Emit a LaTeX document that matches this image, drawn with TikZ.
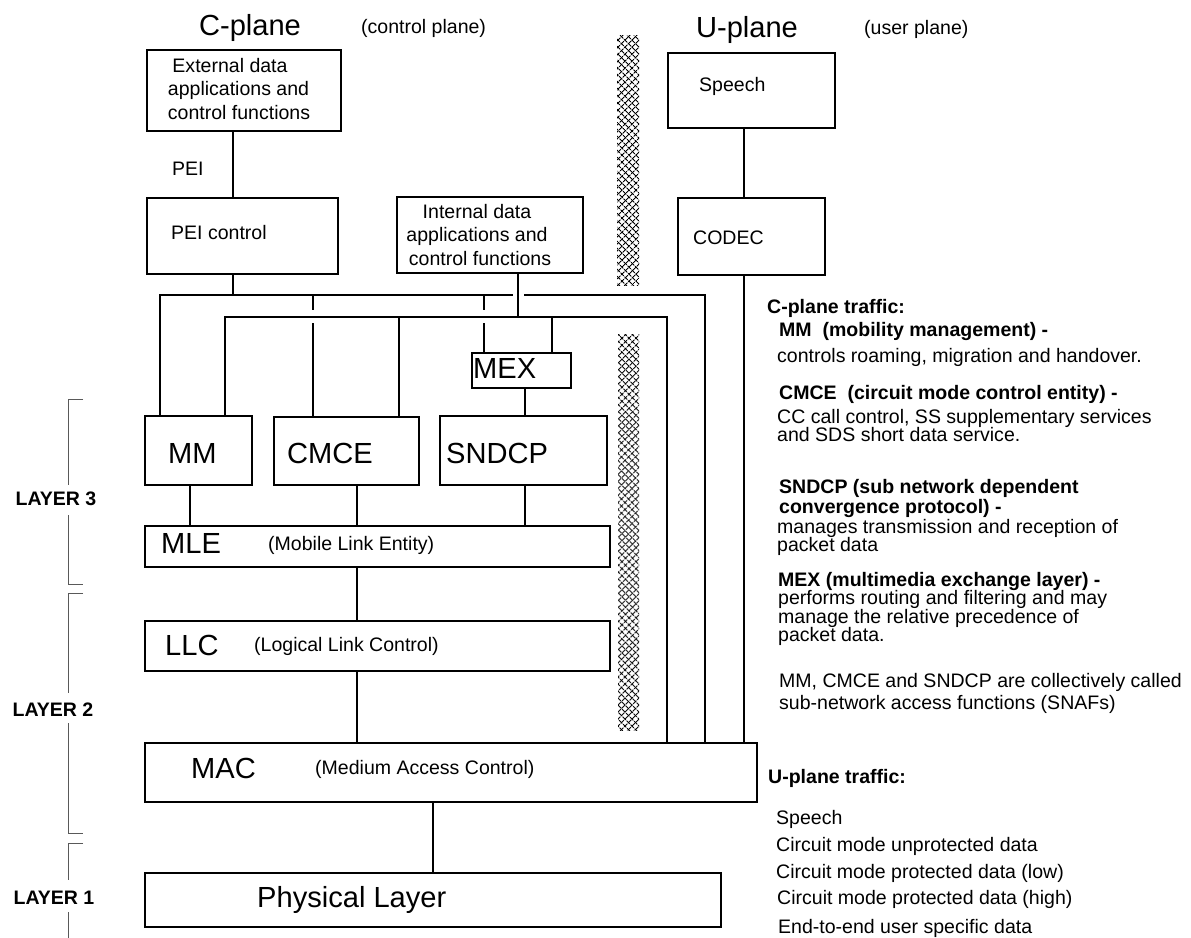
\documentclass[tikz,border=0pt]{standalone}
\usepackage{fontspec}
\setmainfont{Liberation Sans}
\usetikzlibrary{patterns.meta}
\newcommand\mkbox[5]{\node[box, minimum width={(#4-#2)*1bp}, minimum height={(#5-#3)*1bp}] (#1) at (#2,#3) {};}
\begin{document}
\begin{tikzpicture}[x=1bp,y=-1bp,
  box/.style={draw, line width=1.7bp, rectangle, inner sep=0pt, anchor=north west},
  conn/.style={line width=1.7bp},
  brk/.style={line width=1bp, black!65},
  sm/.style={font=\fontsize{19.6}{23}\selectfont, inner sep=0pt, anchor=base west},
  smb/.style={font=\fontsize{19.6}{23}\selectfont\bfseries, inner sep=0pt, anchor=base west},
  bg/.style={font=\fontsize{29.2}{33}\selectfont, inner sep=0pt, anchor=base west},
  hatcha/.style={pattern={Lines[angle=45,distance=5.2bp,line width=1.1bp]}},
  hatchb/.style={pattern={Lines[angle=-45,distance=5.2bp,line width=1.1bp]}},
]
\fill[white] (0,0) rectangle (1191,938);
\useasboundingbox (0,0) rectangle (1191,938);

% titles
\node[bg, anchor=base] (cplane) at (250,35) {C-plane};
\node[sm] (cplanet) at (361,33) {(control plane)};
\node[bg, anchor=base] (uplane) at (747,37) {U-plane};
\node[sm] (uplanet) at (864,34) {(user plane)};

% boxes
\mkbox{ext}{146}{49}{340}{130}
\mkbox{peic}{146}{197}{337}{273}
\mkbox{int}{396}{196}{582}{272}
\mkbox{speech}{667}{52}{834}{127}
\mkbox{codec}{677}{197}{824}{274}
\mkbox{mex}{471}{352}{570}{387}
\mkbox{mm}{144}{415}{251}{484}
\mkbox{cmce}{273}{416}{418}{484}
\mkbox{sndcp}{439}{415}{606}{484}
\mkbox{mle}{144}{525}{609}{566}
\mkbox{llc}{144}{620}{609}{670}
\mkbox{mac}{144}{742}{756}{801}
\mkbox{phy}{144}{872}{720}{926}

% box texts
\node[sm, anchor=base] (ext1) at (230,72) {External data};
\node[sm, anchor=base] (ext2) at (238.5,95.5) {applications and};
\node[sm, anchor=base] (ext3) at (239,119) {control functions};
\node[sm] (peilab) at (172,175) {PEI};
\node[sm] (peict) at (171,239) {PEI control};
\node[sm, anchor=base] (int1) at (477,218) {Internal data};
\node[sm, anchor=base] (int2) at (477,241.5) {applications and};
\node[sm, anchor=base] (int3) at (480,265) {control functions};
\node[sm] (speecht) at (699,91) {Speech};
\node[sm] (codect) at (693,244) {CODEC};
\node[bg] (mext) at (473,378.5) {MEX};
\node[bg] (mmt) at (168,463) {MM};
\node[bg] (cmcet) at (287,463) {CMCE};
\node[bg] (sndcpt) at (446,463) {SNDCP};
\node[bg] (mlet) at (161,553) {MLE};
\node[sm] (mlel) at (268,550) {(Mobile Link Entity)};
\node[bg] (llct) at (165,655) {LLC};
\node[sm] (llcl) at (254,651) {(Logical Link Control)};
\node[bg] (mact) at (191,778) {MAC};
\node[sm] (macl) at (315,774) {(Medium Access Control)};
\node[bg] (phyt) at (257,907) {Physical Layer};

% hatched separators
\path[hatcha] (617,35) rectangle (639,285);
\path[hatchb] (617,35) rectangle (639,285);
\path[hatcha] (618,334) rectangle (639,730);
\path[hatchb] (618,334) rectangle (639,730);

% column / row coordinates
\coordinate (ub) at (0,295);
\coordinate (lb) at (0,317);
\coordinate (ga) at (0,310);
\coordinate (gb) at (0,323);
\coordinate (cpei) at (233,0);
\coordinate (cmm1) at (160,0);
\coordinate (cmm2) at (225,0);
\coordinate (ccm1) at (313,0);
\coordinate (ccm2) at (399,0);
\coordinate (cmx1) at (484,0);
\coordinate (cmx2) at (552,0);
\coordinate (cint) at (518,0);
\coordinate (gapl) at (513,0);
\coordinate (gapr) at (524,0);
\coordinate (csn) at (525,0);
\coordinate (cmm) at (190,0);
\coordinate (cmid) at (357,0);
\coordinate (cphy) at (433,0);
\coordinate (cup) at (705,0);
\coordinate (clo) at (667,0);
\coordinate (ccod) at (744,0);

% connectors
\draw[conn] (ext.south -| cpei) -- (peic.north -| cpei);
\draw[conn] (peic.south -| cpei) -- (cpei |- ub);
\draw[conn] (mm.north -| cmm1) -- (cmm1 |- ub) -- (gapl |- ub);
\draw[conn] (gapr |- ub) -- (cup |- ub) -- (mac.north -| cup);
\draw[conn] (mm.north -| cmm2) -- (cmm2 |- lb) -- (clo |- lb) -- (mac.north -| clo);
\draw[conn] (ccm1 |- ub) -- (ccm1 |- ga);
\draw[conn] (ccm1 |- gb) -- (cmce.north -| ccm1);
\draw[conn] (ccm2 |- lb) -- (cmce.north -| ccm2);
\draw[conn] (cmx1 |- ub) -- (cmx1 |- ga);
\draw[conn] (cmx1 |- gb) -- (mex.north -| cmx1);
\draw[conn] (cmx2 |- lb) -- (mex.north -| cmx2);
\draw[conn] (int.south -| cint) -- (cint |- lb);
\draw[conn] (mex.south -| csn) -- (sndcp.north -| csn);
\draw[conn] (mm.south -| cmm) -- (mle.north -| cmm);
\draw[conn] (cmce.south -| cmid) -- (mle.north -| cmid);
\draw[conn] (sndcp.south -| csn) -- (mle.north -| csn);
\draw[conn] (mle.south -| cmid) -- (llc.north -| cmid);
\draw[conn] (llc.south -| cmid) -- (mac.north -| cmid);
\draw[conn] (mac.south -| cphy) -- (phy.north -| cphy);
\draw[conn] (speech.south -| ccod) -- (codec.north -| ccod);
\draw[conn] (codec.south -| ccod) -- (mac.north -| ccod);

% layer brackets
\node[smb, anchor=base] (lay3) at (56,505) {LAYER 3};
\node[smb, anchor=base] (lay2) at (53,716) {LAYER 2};
\node[smb, anchor=base] (lay1) at (54,904) {LAYER 1};
\coordinate (l3e) at (83,399); \coordinate (l3t) at (68,399);
\coordinate (l3g1) at (68,485); \coordinate (l3g2) at (68,515);
\coordinate (l3b) at (68,584); \coordinate (l3f) at (83,584);
\coordinate (l2e) at (83,593); \coordinate (l2t) at (68,593);
\coordinate (l2g1) at (68,693); \coordinate (l2g2) at (68,723);
\coordinate (l2b) at (68,833); \coordinate (l2f) at (83,833);
\coordinate (l1e) at (83,843); \coordinate (l1t) at (68,843);
\coordinate (l1g1) at (68,880); \coordinate (l1g2) at (68,912);
\coordinate (l1b) at (68,938);
\draw[brk] (l3e) -- (l3t) -- (l3g1);
\draw[brk] (l3g2) -- (l3b) -- (l3f);
\draw[brk] (l2e) -- (l2t) -- (l2g1);
\draw[brk] (l2g2) -- (l2b) -- (l2f);
\draw[brk] (l1e) -- (l1t) -- (l1g1);
\draw[brk] (l1g2) -- (l1b);

% right-hand notes
\node[smb] (t1) at (767,313) {C-plane traffic:};
\node[smb] (t2) at (779,336) {MM\ \ (mobility management) -};
\node[sm] (t3) at (777,362) {controls roaming, migration and handover.};
\node[smb] (t4) at (779,399) {CMCE\ \ (circuit mode control entity) -};
\node[sm] (t5) at (777,423) {CC call control, SS supplementary services};
\node[sm] (t6) at (777,441) {and SDS short data service.};
\node[smb] (t7) at (779,493) {SNDCP (sub network dependent};
\node[smb] (t8) at (779,513) {convergence protocol) -};
\node[sm] (t9) at (777,533) {manages transmission and reception of};
\node[sm] (t10) at (777,551) {packet data};
\node[smb] (t11) at (778,586) {MEX (multimedia exchange layer) -};
\node[sm] (t12) at (778,604) {performs routing and filtering and may};
\node[sm] (t13) at (778,623) {manage the relative precedence of};
\node[sm] (t14) at (778,641) {packet data.};
\node[sm] (t15) at (779,687) {MM, CMCE and SNDCP are collectively called};
\node[sm] (t16) at (779,709) {sub-network access functions (SNAFs)};
\node[smb] (t17) at (768,783) {U-plane traffic:};
\node[sm] (t18) at (776,824) {Speech};
\node[sm] (t19) at (776,851) {Circuit mode unprotected data};
\node[sm] (t20) at (776,878) {Circuit mode protected data (low)};
\node[sm] (t21) at (777,904) {Circuit mode protected data (high)};
\node[sm] (t22) at (778,933) {End-to-end user specific data};
\end{tikzpicture}
\end{document}
